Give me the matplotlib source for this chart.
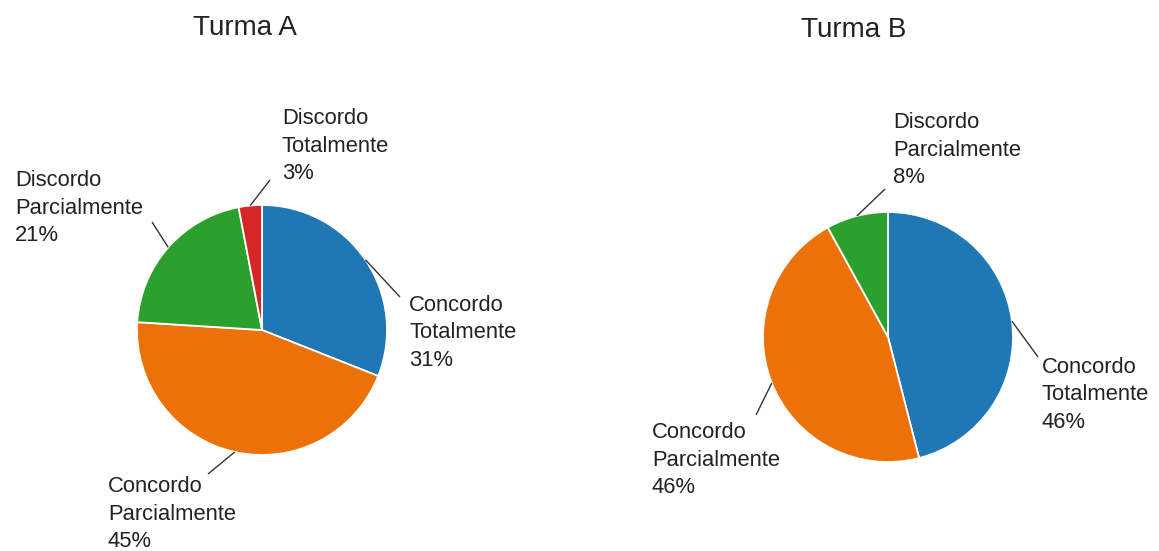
import matplotlib.pyplot as plt
import numpy as np

plt.rcParams['font.family'] = ['Liberation Sans', 'DejaVu Sans']

# respostas por turma (%)
categorias_a = ['Concordo\nTotalmente', 'Concordo\nParcialmente',
                'Discordo\nParcialmente', 'Discordo\nTotalmente']
valores_a = [31, 45, 21, 3]

categorias_b = ['Concordo\nTotalmente', 'Concordo\nParcialmente',
                'Discordo\nParcialmente']
valores_b = [46, 46, 8]

titulos = ['Turma A', 'Turma B']

cores = ['#1f77b4', '#ec7108', '#2ca02c', '#d62728']

# layout em pixels (origem no canto superior esquerdo)
W, H = 1159, 551
RAIO = 125
centros = [(262, 330), (888, 337)]
pos_titulos = [(245, 28), (854, 30)]
# fim da linha guia, x da esquerda do texto, y da linha do meio
rotulos = [
    [((400, 297), 409, 333), ((208, 474), 108, 514),
     ((152, 222), 15, 208), ((270, 180), 282, 146)],
    [((1038, 357), 1042, 395), ((756, 415), 652, 460),
     ((885, 189), 893, 150)],
]


def px(x, y):
    return x, H - y


fig = plt.figure(figsize=(W / 100, H / 100), dpi=100)
ax = fig.add_axes([0, 0, 1, 1])

dados = [(categorias_a, valores_a), (categorias_b, valores_b)]
for (cats, vals), centro, titulo, pt, rots in zip(dados, centros, titulos,
                                                   pos_titulos, rotulos):
    c = px(*centro)
    wedges, _ = ax.pie(vals, colors=cores[:len(vals)], startangle=90,
                       counterclock=False, radius=RAIO, center=c,
                       wedgeprops=dict(edgecolor='white', linewidth=1.3))
    ax.text(*px(*pt), titulo, ha='center', va='center', fontsize=20,
            color='#222222')
    for w, cat, v, (fim, xt, yt) in zip(wedges, cats, vals, rots):
        meio = np.deg2rad((w.theta1 + w.theta2) / 2)
        x0 = c[0] + RAIO * np.cos(meio)
        y0 = c[1] + RAIO * np.sin(meio)
        x1, y1 = px(*fim)
        ax.plot([x0, x1], [y0, y1], color='#333333', lw=1.0,
                solid_capstyle='butt')
        ax.text(*px(xt, yt), f'{cat}\n{v}%', ha='left', va='center',
                fontsize=15.8, color='#222222', linespacing=1.4)

ax.set_xlim(0, W)
ax.set_ylim(0, H)
ax.set_aspect('equal')
ax.axis('off')

fig.savefig('out.png', dpi=100, facecolor='white')
